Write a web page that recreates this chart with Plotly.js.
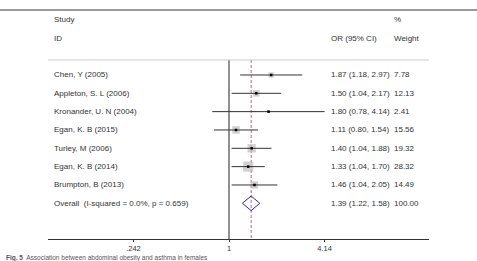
<!DOCTYPE html>
<html>
<head>
<meta charset="utf-8">
<script src="https://cdn.plot.ly/plotly-3.0.1.min.js"></script>
<style>html,body{margin:0;padding:0;background:#fff;}#chart{width:477px;height:261px;}</style>
</head>
<body>
<div id="chart"></div>
<script>
// ---- data ----
var studies = ["Chen, Y (2005)", "Appleton, S. L (2006)", "Kronander, U. N (2004)", "Egan, K. B (2015)",
               "Turley, M (2006)", "Egan, K. B (2014)", "Brumpton, B (2013)"];
var orEst  = [1.87, 1.50, 1.80, 1.11, 1.40, 1.33, 1.46];
var ciLow  = [1.18, 1.04, 0.78, 0.80, 1.04, 1.04, 1.04];
var ciHigh = [2.97, 2.17, 4.14, 1.54, 1.88, 1.70, 2.05];
var weights = [7.78, 12.13, 2.41, 15.56, 19.32, 28.32, 14.49];
var overallLabel = "Overall  (I-squared = 0.0%, p = 0.659)";
var overallEst = 1.39, overallLow = 1.22, overallHigh = 1.58, overallWeight = "100.00";
var tickVals = [0.242, 1, 4.14];
var tickText = [".242", "1", "4.14"];
var caption = "<b>Fig. 5</b>  Association between abdominal obesity and asthma in females";

// ---- layout helpers ----
var W = 477, H = 261, ML = 48, MR = 48, MT = 0, MB = 22;
var PW = W - ML - MR;
function px2paper(px){ return (px - ML) / PW; }
var rowTop = -0.818, rowAxis = 8.947;
var font = "Liberation Sans, Arial, sans-serif";
var txtCol = "#333333";

function fmt(v){ return v.toFixed(2); }

var traces = [];
var n = studies.length;
var rows = studies.map(function(_, i){ return i; });
var overallRow = n;

// vertical line at 1
traces.push({x:[1,1], y:[rowTop, rowAxis], mode:"lines", line:{color:"#222", width:1}, hoverinfo:"skip", cliponaxis:false});
// dashed overall line
traces.push({x:[overallEst, overallEst], y:[rowTop, rowAxis], mode:"lines", line:{color:"#b06a80", width:1, dash:"3px,2px"}, hoverinfo:"skip"});

// boxes
traces.push({x:orEst, y:rows, mode:"markers",
  marker:{symbol:"square", color:"#bdbdbd", size:weights.map(function(w){return 1.9*Math.sqrt(w);}), line:{width:0}},
  hoverinfo:"skip"});
// CI lines
var cx = [], cy = [];
for (var i = 0; i < n; i++){ cx.push(ciLow[i], ciHigh[i], null); cy.push(i, i, null); }
traces.push({x:cx, y:cy, mode:"lines", line:{color:"#333", width:1}, hoverinfo:"skip"});
// centre dots
traces.push({x:orEst, y:rows, mode:"markers", marker:{symbol:"square", color:"#000", size:2.5}, hoverinfo:"skip"});
// diamond
var dh = 0.4;
traces.push({x:[overallLow, overallEst, overallHigh, overallEst, overallLow],
  y:[overallRow, overallRow - dh, overallRow, overallRow + dh, overallRow],
  mode:"lines", line:{color:"#2e2e8c", width:1}, hoverinfo:"skip"});
// divider under headers
traces.push({x:[Math.pow(10,-1.1677), Math.pow(10,1.2903)], y:[rowTop, rowTop], mode:"lines", line:{color:"#cccccc", width:1}, hoverinfo:"skip"});

var ann = [];
function addText(txt, px, row){
  ann.push({text:txt, x:px2paper(px), xref:"paper", y:row, yref:"y", xanchor:"left", yanchor:"middle",
            showarrow:false, font:{family:font, size:8, color:txtCol}});
}
addText("Study", 52, -3);
addText("ID", 52, -2);
addText("%", 392, -3);
addText("OR (95% CI)", 329, -2);
addText("Weight", 392, -2);
for (var i = 0; i < n; i++){
  addText(studies[i], 52, i);
  addText(fmt(orEst[i]) + " (" + fmt(ciLow[i]) + ", " + fmt(ciHigh[i]) + ")", 329, i);
  addText(fmt(weights[i]), 392, i);
}
addText(overallLabel, 52, overallRow);
addText(fmt(overallEst) + " (" + fmt(overallLow) + ", " + fmt(overallHigh) + ")", 329, overallRow);
addText(overallWeight, 392, overallRow);
ann.push({text:caption, x:px2paper(4), xref:"paper", y:(H - MB - 257.5)/(H - MT - MB), yref:"paper",
  xanchor:"left", yanchor:"middle", showarrow:false, font:{family:font, size:6.5, color:"#555"}});

var layout = {
  width:W, height:H, margin:{l:ML, r:MR, t:MT, b:MB, pad:0},
  paper_bgcolor:"#fff", plot_bgcolor:"#fff", showlegend:false,
  xaxis:{type:"log", range:[-1.1677, 1.2903], showgrid:false, zeroline:false, showline:true,
    linecolor:"#333", linewidth:1, ticks:"outside", ticklen:2, tickcolor:"#333",
    tickvals:tickVals, ticktext:tickText, tickfont:{family:font, size:7.5, color:txtCol}, fixedrange:true},
  yaxis:{range:[rowAxis, -4.09], showgrid:false, zeroline:false, showline:false, showticklabels:false, ticks:"", fixedrange:true},
  annotations:ann,
  shapes:[{type:"line", xref:"paper", yref:"paper", x0:px2paper(0), x1:px2paper(477),
    y0:(H - MB - 10)/(H - MT - MB), y1:(H - MB - 10)/(H - MT - MB), line:{color:"#9a9a9a", width:2}}]
};
Plotly.newPlot("chart", traces, layout, {staticPlot:true, displayModeBar:false});
</script>
</body>
</html>
